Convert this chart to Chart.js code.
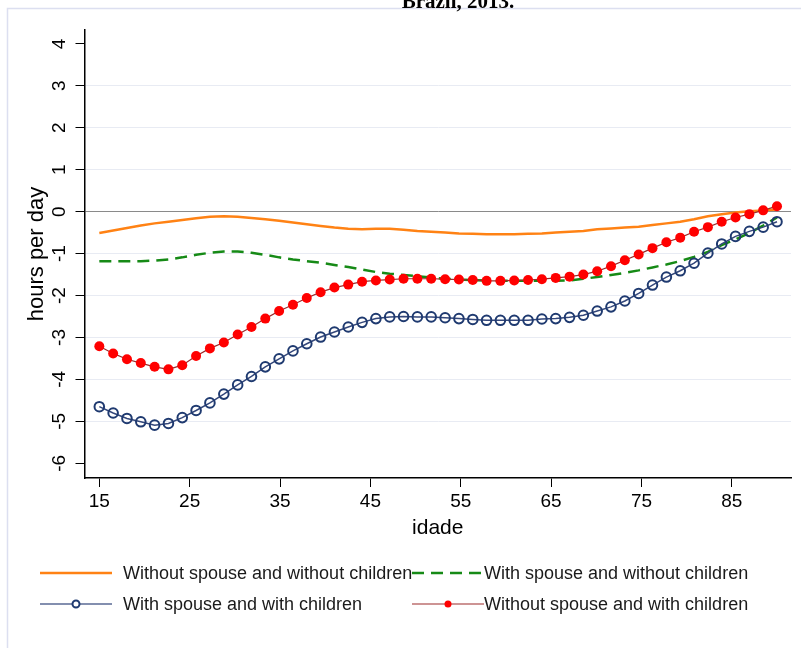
<!DOCTYPE html>
<html>
<head>
<meta charset="utf-8">
<script src="https://cdn.jsdelivr.net/npm/chart.js@4"></script>
<style>
  body { margin: 0; background: #fff; }
</style>
</head>
<body>
<canvas id="myChart" width="801" height="648"></canvas>
<script>
(function() {
const canvas = document.getElementById('myChart');
const context = canvas.getContext('2d');

// ages where the series were evaluated
const ages = [15, 16.53, 18.06, 19.59, 21.12, 22.65, 24.18, 25.71, 27.24, 28.78,
    30.31, 31.84, 33.37, 34.9, 36.43, 37.96, 39.49, 41.02, 42.55, 44.08,
    45.61, 47.14, 48.67, 50.2, 51.73, 53.27, 54.8, 56.33, 57.86, 59.39,
    60.92, 62.45, 63.98, 65.51, 67.04, 68.57, 70.1, 71.63, 73.16, 74.69,
    76.22, 77.76, 79.29, 80.82, 82.35, 83.88, 85.41, 86.94, 88.47, 90];

const noSpouseNoChildren = [-0.51, -0.45, -0.39, -0.33, -0.28, -0.24, -0.20, -0.16, -0.12, -0.11,
    -0.12, -0.15, -0.18, -0.22, -0.26, -0.30, -0.34, -0.38, -0.41, -0.42,
    -0.41, -0.41, -0.43, -0.46, -0.48, -0.50, -0.52, -0.53, -0.54, -0.54,
    -0.54, -0.53, -0.52, -0.50, -0.48, -0.46, -0.42, -0.40, -0.38, -0.36,
    -0.32, -0.28, -0.24, -0.18, -0.11, -0.06, -0.02, 0.01, 0.03, 0.05];

const spouseNoChildren = [-1.18, -1.18, -1.18, -1.18, -1.17, -1.14, -1.09, -1.03, -0.98, -0.95,
    -0.95, -0.98, -1.03, -1.09, -1.14, -1.18, -1.22, -1.27, -1.32, -1.38,
    -1.44, -1.48, -1.51, -1.54, -1.57, -1.60, -1.62, -1.63, -1.64, -1.65,
    -1.65, -1.65, -1.65, -1.65, -1.64, -1.60, -1.56, -1.51, -1.46, -1.40,
    -1.33, -1.26, -1.18, -1.08, -0.96, -0.80, -0.66, -0.51, -0.33, -0.14];

const spouseChildren = [-4.65, -4.80, -4.93, -5.01, -5.09, -5.05, -4.91, -4.74, -4.56, -4.35,
    -4.13, -3.93, -3.70, -3.51, -3.32, -3.15, -2.99, -2.87, -2.75, -2.64,
    -2.55, -2.51, -2.50, -2.51, -2.51, -2.53, -2.55, -2.57, -2.59, -2.59,
    -2.59, -2.59, -2.56, -2.55, -2.52, -2.47, -2.37, -2.27, -2.13, -1.95,
    -1.75, -1.56, -1.41, -1.23, -0.99, -0.77, -0.59, -0.47, -0.37, -0.24];

const noSpouseChildren = [-3.21, -3.38, -3.52, -3.61, -3.70, -3.76, -3.66, -3.44, -3.26, -3.12,
    -2.93, -2.75, -2.55, -2.37, -2.22, -2.06, -1.92, -1.81, -1.74, -1.67,
    -1.64, -1.62, -1.60, -1.60, -1.60, -1.61, -1.62, -1.63, -1.65, -1.65,
    -1.64, -1.63, -1.61, -1.58, -1.55, -1.50, -1.42, -1.30, -1.16, -1.02,
    -0.87, -0.73, -0.62, -0.48, -0.37, -0.24, -0.14, -0.06, 0.03, 0.13];

const seriesLabels = [
    'Without spouse and without children',
    'With spouse and without children',
    'With spouse and with children',
    'Without spouse and with children'
];

const xTicks = [15, 25, 35, 45, 55, 65, 75, 85];
const yTicks = [-6, -5, -4, -3, -2, -1, 0, 1, 2, 3, 4];

const FONT = '"Liberation Sans", Arial, sans-serif';

function toPoints(values) {
    return values.map((v, i) => ({x: ages[i], y: v}));
}

// frame, cut-off title, rotated y labels and the two-column legend
const decorPlugin = {
    id: 'decor',
    beforeDraw(chart) {
        const c = chart.ctx;
        c.save();
        c.fillStyle = '#fff';
        c.fillRect(0, 0, chart.width, chart.height);
        c.strokeStyle = '#dcdff0';
        c.lineWidth = 1.5;
        c.beginPath();
        c.moveTo(7.5, chart.height + 2);
        c.lineTo(7.5, 8.5);
        c.lineTo(chart.width + 2, 8.5);
        c.stroke();
        c.fillStyle = '#000';
        c.font = 'bold 21px "Liberation Serif", "Times New Roman", serif';
        c.textAlign = 'center';
        c.textBaseline = 'alphabetic';
        c.fillText('Brazil, 2013.', 458, 8);
        c.restore();
    },
    afterDraw(chart) {
        const c = chart.ctx;
        const s = chart.scales.y;
        c.save();
        c.fillStyle = '#000';
        c.font = '19px ' + FONT;
        c.textAlign = 'center';
        c.textBaseline = 'alphabetic';
        s.ticks.forEach(t => {
            const y = s.getPixelForValue(t.value);
            c.save();
            c.translate(65, y);
            c.rotate(-Math.PI / 2);
            c.fillText(String(t.value), 0, 0);
            c.restore();
        });

        const slots = [
            {x: 40, y: 573, tx: 123},
            {x: 412, y: 573, tx: 484},
            {x: 40, y: 604, tx: 123},
            {x: 412, y: 604, tx: 484}
        ];
        chart.data.datasets.forEach((ds, i) => {
            const p = slots[i];
            c.save();
            c.strokeStyle = ds.legendLine || ds.borderColor;
            c.lineWidth = ds.borderWidth;
            c.setLineDash(ds.borderDash || []);
            c.beginPath();
            c.moveTo(p.x, p.y);
            c.lineTo(p.x + 72, p.y);
            c.stroke();
            c.setLineDash([]);
            if (ds.pointRadius > 0) {
                c.beginPath();
                c.arc(p.x + 36, p.y, 3.5, 0, Math.PI * 2);
                if (ds.pointBorderWidth > 0) {
                    c.fillStyle = '#fff';
                    c.fill();
                    c.strokeStyle = ds.pointBorderColor;
                    c.lineWidth = 2;
                    c.stroke();
                } else {
                    c.fillStyle = ds.pointBackgroundColor;
                    c.fill();
                }
            }
            c.fillStyle = '#1a1a1a';
            c.font = '18px ' + FONT;
            c.textAlign = 'left';
            c.textBaseline = 'middle';
            c.fillText(ds.label, p.tx, p.y + 1);
            c.restore();
        });
        c.restore();
    }
};

const myChart = new Chart(context, {
    type: 'line',
    data: {
        datasets: [{
            label: seriesLabels[0],
            data: toPoints(noSpouseNoChildren),
            borderColor: '#ff8214',
            borderWidth: 2.5,
            pointRadius: 0,
            order: 3
        }, {
            label: seriesLabels[1],
            data: toPoints(spouseNoChildren),
            borderColor: '#168a16',
            borderWidth: 2.5,
            borderDash: [12, 7],
            pointRadius: 0,
            order: 2
        }, {
            label: seriesLabels[2],
            data: toPoints(spouseChildren),
            borderColor: '#34477a',
            legendLine: '#5a6a94',
            borderWidth: 1.5,
            pointRadius: 4.8,
            pointBorderWidth: 2,
            pointBorderColor: '#1f3a70',
            pointBackgroundColor: 'rgba(255,255,255,0)',
            order: 1
        }, {
            label: seriesLabels[3],
            data: toPoints(noSpouseChildren),
            borderColor: '#9b2b2b',
            borderWidth: 1.2,
            pointRadius: 5,
            pointBorderWidth: 0,
            pointBackgroundColor: '#ff0000',
            order: 0
        }]
    },
    options: {
        responsive: false,
        animation: false,
        layout: {
            padding: {top: 30, left: 20, right: 10, bottom: 107}
        },
        plugins: {
            legend: {display: false},
            tooltip: {enabled: false}
        },
        scales: {
            x: {
                type: 'linear',
                min: 13.36,
                max: 91.55,
                afterBuildTicks: s => { s.ticks = xTicks.map(v => ({value: v})); },
                ticks: {
                    color: '#000',
                    font: {size: 19, family: FONT},
                    padding: 3,
                    autoSkip: false,
                    maxRotation: 0
                },
                grid: {drawOnChartArea: false, tickColor: '#000', tickLength: 9},
                border: {color: '#000', width: 1.5},
                title: {
                    display: true,
                    text: 'idade',
                    color: '#000',
                    font: {size: 21, family: FONT},
                    padding: {top: 0, bottom: 0}
                }
            },
            y: {
                min: -6.35,
                max: 4.33,
                afterBuildTicks: s => { s.ticks = yTicks.map(v => ({value: v})); },
                afterFit: s => { s.width = 64.5; },
                ticks: {display: false},
                grid: {
                    color: ctx => {
                        const v = ctx.tick ? ctx.tick.value : null;
                        if (v === 0) return '#8a8a8a';
                        if (v === 4 || v === -6) return 'rgba(0,0,0,0)';
                        return '#e8ebf3';
                    },
                    tickColor: '#000',
                    tickLength: 9
                },
                border: {color: '#000', width: 1.5},
                title: {
                    display: true,
                    text: 'hours per day',
                    color: '#000',
                    font: {size: 22, family: FONT},
                    padding: {top: 4, bottom: 0}
                }
            }
        }
    },
    plugins: [decorPlugin]
});
})();
</script>
</body>
</html>
